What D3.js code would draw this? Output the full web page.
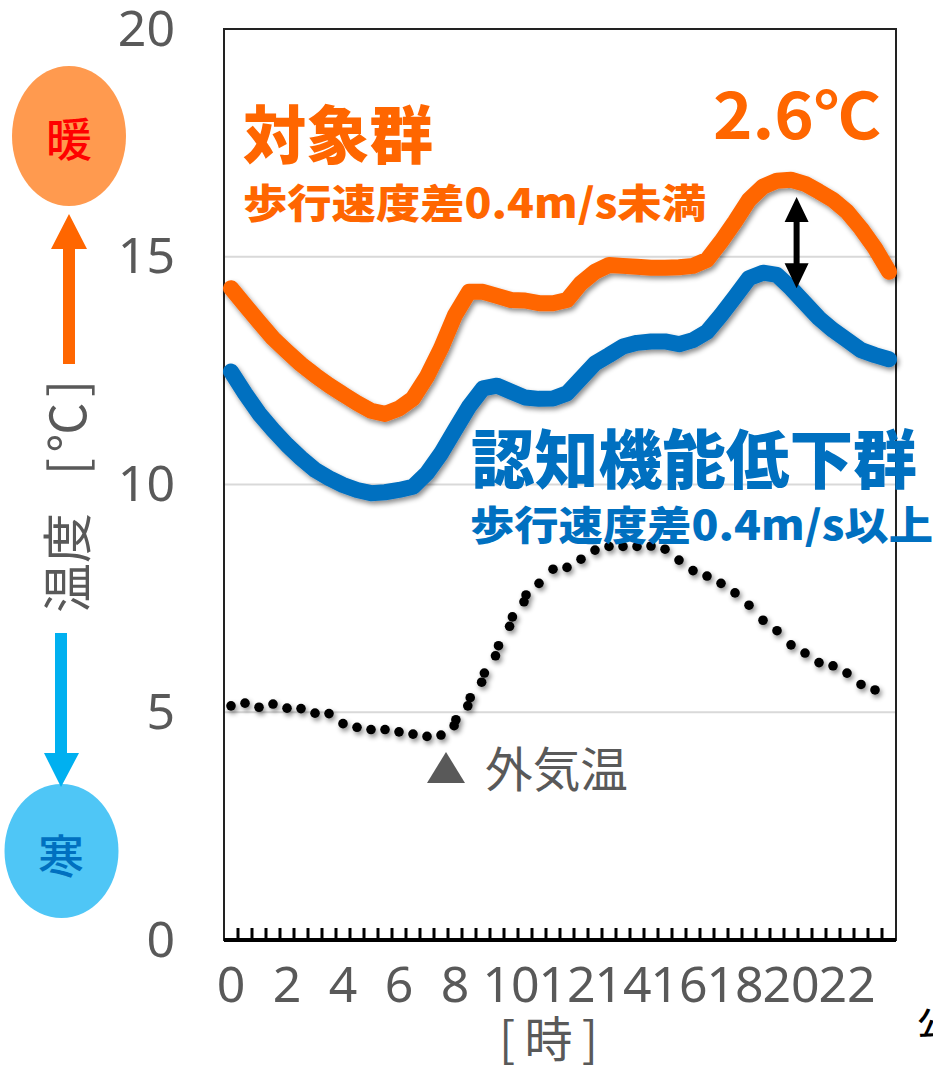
<!DOCTYPE html>
<html>
<head>
<meta charset="utf-8">
<script src="https://cdn.jsdelivr.net/npm/d3@7"></script>
<style>
  html, body { margin: 0; padding: 0; background: #fff; overflow: hidden; }
  text { font-family: "Noto Sans CJK JP", "Noto Sans", sans-serif; }
</style>
</head>
<body>
<div id="chart"></div>
<script>
// half-hourly categories, labelled every two hours
var hours = d3.range(48).map(function(i) { return i / 2; });
var hourLabels = [0, 2, 4, 6, 8, 10, 12, 14, 16, 18, 20, 22];
var tempTicks = [0, 5, 10, 15, 20];

// indoor temperature, control group
var controlTemp = [14.31, 13.94, 13.57, 13.21, 12.92, 12.64, 12.40, 12.18, 11.98, 11.79, 11.62, 11.55,
  11.67, 11.89, 12.37, 12.99, 13.72, 14.23, 14.23, 14.14, 14.05, 14.04, 13.98, 13.98,
  14.05, 14.42, 14.67, 14.82, 14.80, 14.78, 14.76, 14.76, 14.77, 14.80, 14.93, 15.33,
  15.77, 16.25, 16.54, 16.67, 16.69, 16.60, 16.43, 16.25, 15.99, 15.62, 15.19, 14.67];

// indoor temperature, reduced cognitive function group
var declineTemp = [12.48, 12.00, 11.56, 11.20, 10.87, 10.58, 10.32, 10.14, 9.99, 9.88, 9.81, 9.83,
  9.88, 9.95, 10.25, 10.68, 11.20, 11.71, 12.11, 12.17, 12.04, 11.91, 11.88, 11.89,
  12.00, 12.33, 12.66, 12.84, 13.03, 13.11, 13.14, 13.14, 13.08, 13.17, 13.35, 13.72,
  14.12, 14.53, 14.65, 14.60, 14.31, 13.98, 13.65, 13.39, 13.17, 12.95, 12.84, 12.75];

// outdoor temperature (no reading for the last half hour)
var outdoorTemp = [5.14, 5.20, 5.11, 5.18, 5.09, 5.08, 4.98, 4.97, 4.75, 4.67, 4.62, 4.62,
  4.57, 4.52, 4.47, 4.50, 4.77, 5.23, 5.76, 6.35, 6.99, 7.50, 7.83, 8.14,
  8.18, 8.36, 8.56, 8.64, 8.64, 8.64, 8.65, 8.58, 8.34, 8.11, 7.99, 7.83,
  7.62, 7.35, 7.02, 6.79, 6.48, 6.30, 6.09, 6.02, 5.86, 5.61, 5.49];

// ends of the double arrow between the two groups
var gapArrow = [16.31, 14.31];

var margin = {top: 29, right: 37, bottom: 125, left: 224},
    width = 933 - margin.left - margin.right,
    height = 1065 - margin.top - margin.bottom;

var svg = d3.select("#chart")
  .append("svg")
    .attr("width", 933)
    .attr("height", 1065);

var defs = svg.append("defs");
var shadow = defs.append("filter")
    .attr("id", "shadow")
    .attr("x", "-10%").attr("y", "-10%")
    .attr("width", "120%").attr("height", "130%");
shadow.append("feDropShadow")
    .attr("dx", 2).attr("dy", 3)
    .attr("stdDeviation", 2.5)
    .attr("flood-color", "#000")
    .attr("flood-opacity", 0.45);

var grey = "#595959", orange = "#ff6600", blue = "#0070c0";

var chart = svg.append("g")
    .attr("transform", "translate(" + margin.left + "," + margin.top + ")");

var x = d3.scaleBand().domain(hours).range([0, width]);
var y = d3.scaleLinear().domain([0, 20]).range([height, 0]);
function xMid(d) { return x(d) + x.bandwidth() / 2; }

// gridlines
chart.selectAll(".grid")
  .data([5, 15, 10])
  .enter().append("line")
    .attr("x1", 0).attr("x2", width)
    .attr("y1", function(d) { return y(d); })
    .attr("y2", function(d) { return y(d); })
    .attr("stroke", "#d9d9d9")
    .attr("stroke-width", 2);

// Y axis
var yAxis = chart.append("g")
    .call(d3.axisLeft(y).tickValues(tempTicks).tickSize(0).tickPadding(49));
yAxis.select(".domain").remove();
yAxis.selectAll("text")
    .attr("font-size", 50)
    .style("font-family", "'Noto Sans', sans-serif")
    .attr("fill", grey);

// X axis, labels only
var xAxis = chart.append("g")
    .attr("transform", "translate(0," + height + ")")
    .call(d3.axisBottom(x).tickValues(hourLabels).tickSize(0).tickPadding(26));
xAxis.select(".domain").remove();
xAxis.selectAll("text")
    .attr("font-size", 50)
    .style("font-family", "'Noto Sans', sans-serif")
    .attr("fill", grey);

// frame
chart.append("rect")
    .attr("width", width)
    .attr("height", height)
    .attr("fill", "none")
    .attr("stroke", "#222")
    .attr("stroke-width", 2);

// ticks sit on the category boundaries and point inward
chart.selectAll(".hourTick")
  .data(hours.slice(1))
  .enter().append("line")
    .attr("x1", function(d) { return x(d); })
    .attr("x2", function(d) { return x(d); })
    .attr("y1", height)
    .attr("y2", height - 12)
    .attr("stroke", "#000")
    .attr("stroke-width", 3);

chart.append("line")
    .attr("x1", 0).attr("x2", width)
    .attr("y1", height).attr("y2", height)
    .attr("stroke", "#000")
    .attr("stroke-width", 4);

// group lines
var line = d3.line()
    .x(function(d, i) { return xMid(hours[i]); })
    .y(function(d) { return y(d); });

[[declineTemp, blue], [controlTemp, orange]].forEach(function(s) {
  chart.append("path")
      .datum(s[0])
      .attr("d", line)
      .attr("fill", "none")
      .attr("stroke", s[1])
      .attr("stroke-width", 16)
      .attr("stroke-linecap", "round")
      .attr("stroke-linejoin", "round")
      .attr("filter", "url(#shadow)");
});

// outdoor temperature as dots; each reading is a short dash that
// opens into a pair of dots where the curve climbs quickly
var dots = [];
outdoorTemp.forEach(function(d, i) {
  var prev = outdoorTemp[Math.max(i - 1, 0)], next = outdoorTemp[Math.min(i + 1, outdoorTemp.length - 1)];
  var rise = y(prev) - y(next);
  var off = Math.abs(rise) > 30 ? rise * 0.09 : 0;
  dots.push({cx: xMid(hours[i]) + off * 0.3, cy: y(d) - off});
  if (off) dots.push({cx: xMid(hours[i]) - off * 0.3, cy: y(d) + off});
});

chart.append("g")
    .attr("filter", "url(#shadow)")
  .selectAll("circle")
  .data(dots)
  .enter().append("circle")
    .attr("cx", function(d) { return d.cx; })
    .attr("cy", function(d) { return d.cy; })
    .attr("r", 4.8)
    .attr("fill", "#000");

// double arrow between the groups
var arrowX = xMid(hours[40]) + 5.6;
var arrowTop = y(gapArrow[0]), arrowBottom = y(gapArrow[1]);
chart.append("path")
    .attr("d", "M" + arrowX + "," + arrowTop +
      "l12,25h-9V" + (arrowBottom - 25) + "h9l-12,25l-12,-25h9V" + (arrowTop + 25) + "h-9z")
    .attr("fill", "#000");

// text and shapes placed on the page, not on the scales
function label(txt, px, py, size, weight, color, length, adjust) {
  var t = svg.append("text")
      .attr("x", px).attr("y", py)
      .attr("font-size", size)
      .attr("font-weight", weight)
      .attr("fill", color)
      .text(txt);
  if (length) t.attr("textLength", length).attr("lengthAdjust", adjust || "spacingAndGlyphs");
  return t;
}

label("対象群", 243, 158, 63, 900, orange, 190);
label("歩行速度差0.4m/s未満", 243, 218, 40, 900, orange, 463);
label("2.6℃", 713, 139, 64, 700, orange, 168);
label("認知機能低下群", 471, 483, 64, 900, blue, 446);
label("歩行速度差0.4m/s以上", 470, 540, 40, 900, blue, 463);
label("外気温", 485, 787, 48, 400, grey, 143);

svg.append("path")
    .attr("d", "M446,752L465,783H427Z")
    .attr("fill", grey);

label("[時]", 499, 1057, 48, 400, grey, 99, "spacing");
label("公", 917, 1035, 32, 500, "#000");

// rotated axis title
svg.append("text")
    .attr("transform", "translate(86,613) rotate(-90)")
    .attr("font-size", 50)
    .attr("fill", grey)
    .text("温度");
svg.append("text")
    .attr("transform", "translate(86,475) rotate(-90)")
    .attr("font-size", 50)
    .attr("fill", grey)
    .attr("textLength", 95)
    .attr("lengthAdjust", "spacing")
    .text("[℃]");

// warm and cold markers with their arrows
svg.append("ellipse")
    .attr("cx", 69).attr("cy", 136).attr("rx", 57).attr("ry", 70)
    .attr("fill", "#ff9a4f");
label("暖", 46, 156, 46, 500, "#ff0000");
svg.append("path")
    .attr("d", "M69,214L87,249H75V364H63V249H51Z")
    .attr("fill", orange);

svg.append("ellipse")
    .attr("cx", 61.5).attr("cy", 851).attr("rx", 57).attr("ry", 67)
    .attr("fill", "#4fc6f6");
label("寒", 38, 873, 46, 500, blue);
svg.append("path")
    .attr("d", "M61,787L44,753H55V633H67V753H79Z")
    .attr("fill", "#00b0f0");
</script>
</body>
</html>
